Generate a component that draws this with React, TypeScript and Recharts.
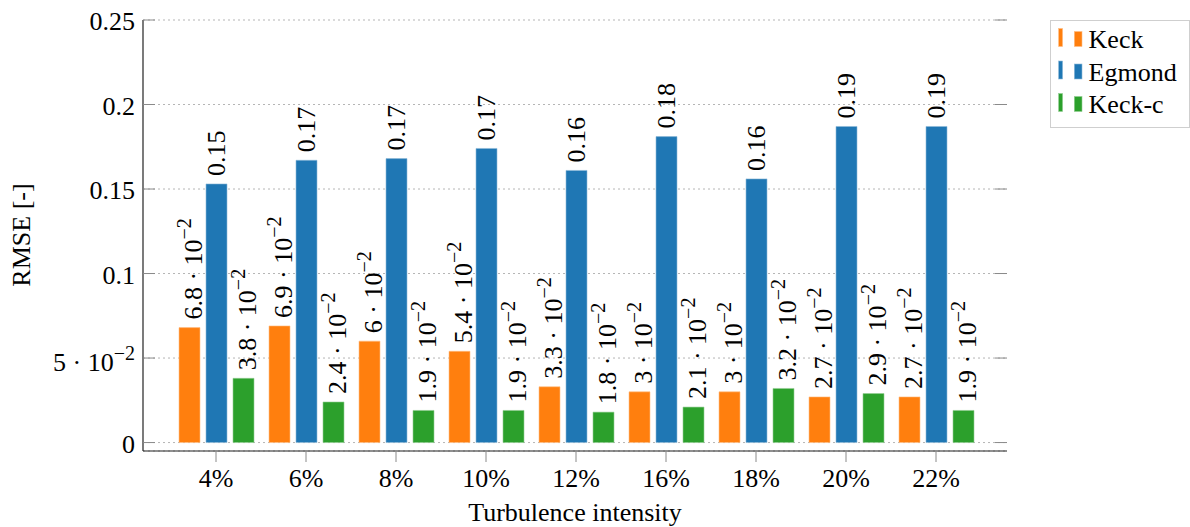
import { Bar, BarChart, XAxis, YAxis, CartesianGrid, LabelList } from "recharts";

const categories = ["4%", "6%", "8%", "10%", "12%", "16%", "18%", "20%", "22%"];
const keck = [0.068, 0.069, 0.06, 0.054, 0.033, 0.03, 0.03, 0.027, 0.027];
const egmond = [0.153, 0.167, 0.168, 0.174, 0.161, 0.181, 0.156, 0.187, 0.187];
const keckC = [0.038, 0.024, 0.019, 0.019, 0.018, 0.021, 0.032, 0.029, 0.019];
const yTicks = [0, 0.05, 0.1, 0.15, 0.2, 0.25];

const seriesNames = ["Keck", "Egmond", "Keck-c"];
const colors = ["#ff7f0e", "#1f77b4", "#2ca02c"];
const edgeColors = ["#ffbf87", "#8fbbd9", "#95cf95"];

const FONT = '"Liberation Serif", "Times New Roman", serif';

const data = categories.map((name, i) => ({
  name,
  keck: keck[i],
  egmond: egmond[i],
  keckC: keckC[i],
}));

// pgfplots-like number formatting: 0.17 or 6.8·10^-2
function fmt(v: number) {
  if (v === 0) return { m: "0", sup: false };
  if (v >= 0.095) return { m: String(Math.round(v * 100) / 100), sup: false };
  return { m: String(Math.round(v * 1000) / 10), sup: true };
}

function NumText({ v }: { v: number }) {
  const f = fmt(v);
  return (
    <>
      {f.m}
      {f.sup && (
        <>
          {" · 10"}
          <tspan fontSize={20} dy={-11}>
            −2
          </tspan>
        </>
      )}
    </>
  );
}

const BarValueLabel = (props: any) => {
  const x = Number(props.x);
  const y = Number(props.y);
  const width = Number(props.width);
  const value = Number(props.value);
  const f = fmt(value);
  const bx = x + width / 2 + (f.sup ? 12 : 8);
  const by = y - 8;
  return (
    <text
      transform={`translate(${bx},${by}) rotate(-90)`}
      textAnchor="start"
      fontSize={26}
      fontFamily={FONT}
      fill="#000"
      style={{ whiteSpace: "pre" }}
    >
      <NumText v={value} />
    </text>
  );
};

const YTick = (props: any) => {
  const { y, payload } = props;
  const f = fmt(payload.value);
  return (
    <g>
      <line x1={143} x2={155} y1={y} y2={y} stroke="#8a8a8a" strokeWidth={1} />
      <line x1={995} x2={1007} y1={y} y2={y} stroke="#8a8a8a" strokeWidth={1} />
      <text x={135} y={y + (f.sup ? 13 : 10)} textAnchor="end" fontSize={26} fontFamily={FONT} fill="#000">
        <NumText v={payload.value} />
      </text>
    </g>
  );
};

const XTick = (props: any) => {
  const { x, payload } = props;
  return (
    <text x={x} y={487} textAnchor="middle" fontSize={26} fontFamily={FONT} fill="#000">
      {payload.value}
    </text>
  );
};

function LegendBox() {
  return (
    <svg
      width={140}
      height={108}
      style={{ position: "absolute", left: 1050, top: 20 }}
    >
      <rect x={0.5} y={0.5} width={139} height={107} fill="#fff" stroke="#cfcfcf" />
      {seriesNames.map((name, i) => {
        const base = 26.5 + i * 32.5;
        return (
          <g key={name}>
            <rect x={8.6} y={base - 18} width={4} height={18} fill={colors[i]} stroke={edgeColors[i]} strokeWidth={0.6} />
            <rect x={24.3} y={base - 15} width={7.7} height={15} fill={colors[i]} stroke={edgeColors[i]} strokeWidth={0.6} />
            <text x={38.6} y={base + 1.5} fontSize={26} fontFamily={FONT} fill="#000">
              {name}
            </text>
          </g>
        );
      })}
    </svg>
  );
}

export default function App() {
  const keys = ["keck", "egmond", "keckC"];
  return (
    <div style={{ position: "absolute", left: 0, top: 0, width: 1190, height: 527, background: "#fff" }}>
      <BarChart
        width={1190}
        height={527}
        data={data}
        margin={{ top: 20, right: 183, bottom: 0, left: 0 }}
        barSize={21}
        barGap={6}
      >
        <CartesianGrid horizontal vertical={false} stroke="#b5b5b5" strokeDasharray="2 3" />
        <XAxis
          dataKey="name"
          height={76}
          padding={{ left: 28, right: 26 }}
          axisLine={{ stroke: "#222", strokeWidth: 1.2 }}
          tickLine={{ stroke: "#8a8a8a" }}
          tickSize={11}
          tick={<XTick />}
          interval={0}
          label={() => (
            <text x={575} y={521} textAnchor="middle" fontSize={26} fontFamily={FONT} fill="#000">
              Turbulence intensity
            </text>
          )}
        />
        <XAxis
          xAxisId="top"
          dataKey="name"
          orientation="top"
          height={0}
          padding={{ left: 28, right: 26 }}
          axisLine={{ stroke: "#222", strokeWidth: 1.2 }}
          tickLine={{ stroke: "#8a8a8a" }}
          tickSize={11}
          tick={() => <g />}
          interval={0}
        />
        <YAxis
          width={143}
          domain={[-0.005, 0.25]}
          ticks={yTicks}
          type="number"
          allowDataOverflow
          axisLine={{ stroke: "#222", strokeWidth: 1.2 }}
          tickLine={false}
          tickSize={0}
          tick={<YTick />}
          label={() => (
            <text
              transform="translate(30,235) rotate(-90)"
              textAnchor="middle"
              fontSize={26}
              fontFamily={FONT}
              fill="#000"
            >
              RMSE [-]
            </text>
          )}
        />
        <YAxis
          yAxisId="right"
          orientation="right"
          width={0}
          domain={[-0.005, 0.25]}
          type="number"
          axisLine={{ stroke: "#222", strokeWidth: 1.2 }}
          tickLine={false}
          tick={false}
        />
        {keys.map((k, i) => (
          <Bar
            key={k}
            dataKey={k}
            name={seriesNames[i]}
            fill={colors[i]}
            stroke={edgeColors[i]}
            strokeWidth={0.6}
            isAnimationActive={false}
          >
            <LabelList dataKey={k} content={<BarValueLabel />} />
          </Bar>
        ))}
      </BarChart>
      <LegendBox />
    </div>
  );
}
